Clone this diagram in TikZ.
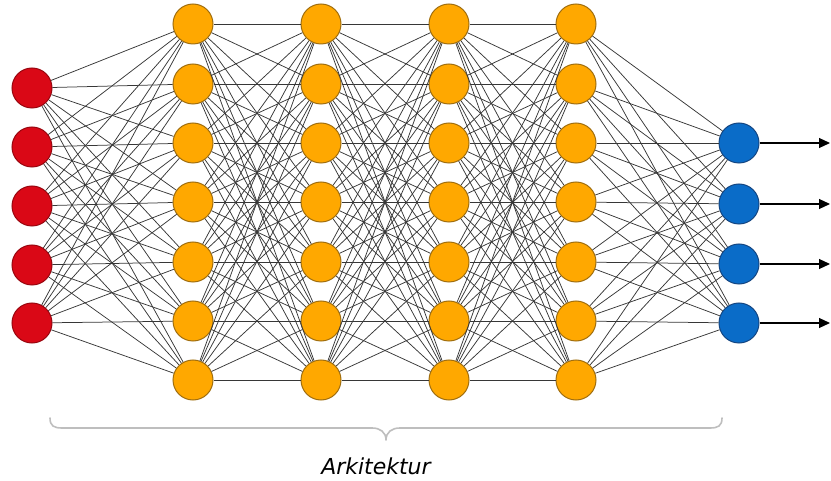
\documentclass[tikz,border=0pt]{standalone}
\usepackage{fontspec}
\setsansfont{DejaVu Sans}
\usetikzlibrary{arrows.meta}
\definecolor{inred}{RGB}{218,8,22}
\definecolor{hidorange}{RGB}{255,168,0}
\definecolor{hidedge}{RGB}{160,110,15}
\definecolor{outblue}{RGB}{10,108,200}
\definecolor{outedge}{RGB}{20,70,130}
\definecolor{wire}{RGB}{55,55,55}
\definecolor{bracegray}{RGB}{190,190,190}
\tikzset{
  neuron/.style={circle, minimum size=40pt, inner sep=0pt, line width=1pt},
  inneuron/.style={neuron, fill=inred, draw=inred!70!black},
  hidneuron/.style={neuron, fill=hidorange, draw=hidedge},
  outneuron/.style={neuron, fill=outblue, draw=outedge},
  wireline/.style={draw=wire, line width=0.75pt},
  outarrow/.style={draw=black, line width=1.1pt, -{Triangle[length=11pt,width=10pt]}},
  bracestyle/.style={draw=bracegray, line width=1.6pt, line cap=round, line join=round},
  label/.style={font=\sffamily\itshape\fontsize{22}{26}\selectfont}
}
\begin{document}
\begin{tikzpicture}[x=1pt,y=-1pt]
\useasboundingbox (0,0) rectangle (831,481);
% input layer
\foreach \i/\y in {1/88,2/147,3/206,4/265,5/323}
  \node[inneuron] (in\i) at (32,\y) {};
% hidden layers
\foreach \l/\x in {1/193,2/321,3/449,4/576}
  \foreach \i/\y in {1/24,2/84,3/143,4/202,5/262,6/321,7/380}
    \node[hidneuron] (h\l-\i) at (\x,\y) {};
% output layer
\foreach \i/\y in {1/143,2/204,3/264,4/323}
  \node[outneuron] (out\i) at (739,\y) {};
% arrow ends
\foreach \i/\y in {1/143,2/204,3/264,4/323}
  \coordinate (end\i) at (830,\y);
% connections
\foreach \a in {1,...,5}
  \foreach \b in {1,...,7}
    \draw[wireline] (in\a) -- (h1-\b);
\foreach \l/\m in {1/2,2/3,3/4}
  \foreach \a in {1,...,7}
    \foreach \b in {1,...,7}
      \draw[wireline] (h\l-\a) -- (h\m-\b);
\foreach \a in {1,...,7}
  \foreach \b in {1,...,4}
    \draw[wireline] (h4-\a) -- (out\b);
\foreach \i in {1,...,4}
  \draw[outarrow] (out\i) -- (end\i);
% brace
\coordinate (bl) at (50,418);
\coordinate (br) at (722,418);
\coordinate (btip) at (386,440);
\draw[bracestyle] (bl) .. controls (50,426) and (54,428) .. (62,428) -- (372,428)
  .. controls (380,428) and (386,432) .. (btip)
  .. controls (386,432) and (392,428) .. (400,428) -- (710,428)
  .. controls (718,428) and (722,426) .. (br);
\node[label] (arch) at (376,466) {Arkitektur};
\end{tikzpicture}
\end{document}
